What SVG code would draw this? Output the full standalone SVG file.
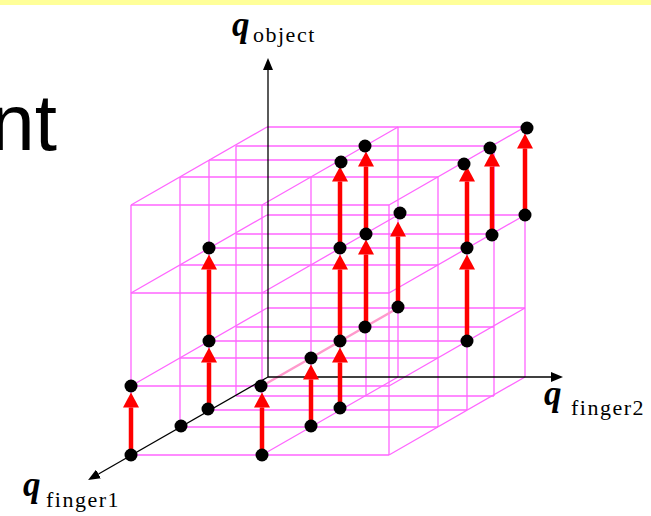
<svg xmlns="http://www.w3.org/2000/svg" width="651" height="516" viewBox="0 0 651 516">
<defs>
<marker id="rh" viewBox="0 0 15 16" refX="0" refY="8" markerWidth="15" markerHeight="16" markerUnits="userSpaceOnUse" orient="auto"><path d="M0,0 L15,8 L0,16 z" fill="#FF0000"/></marker>
<marker id="bh" viewBox="0 0 12 10" refX="0" refY="5" markerWidth="12" markerHeight="10" markerUnits="userSpaceOnUse" orient="auto"><path d="M0,0 L12,5 L0,10 z" fill="#000"/></marker>
</defs>
<style>
.g{stroke:#FF66FF;stroke-width:1.3;fill:none}
.hl{stroke:#FF99CC;stroke-width:2.5;fill:none}
.ax{stroke:#000;stroke-width:1.3;fill:none}
.ar{stroke:#FF0000;stroke-width:4.5;fill:none;marker-end:url(#rh)}
.dot{fill:#000}
.q{font-family:"Liberation Serif",serif;font-weight:bold;font-style:italic;font-size:35px}
.sub{font-family:"Liberation Serif",serif;font-size:22px;letter-spacing:1.5px}
</style>
<rect x="0" y="0" width="651" height="5" fill="#FFFF99"/>
<text x="57" y="150" text-anchor="end" font-family="Liberation Sans, Arial, sans-serif" font-size="80">nt</text>
<g id="grid">
<path class="g" d="M131,455H389 M131,386H389 M131,293H389 M131,205H389
M180,427H438 M180,358H438 M180,265H438 M180,177H438
M209,410H467 M209,341H467 M209,248H467 M209,160H467
M236,396H494 M236,327H494 M236,234H494 M236,146H494
M267,308H525 M267,215H525 M267,127H525"/>
<path class="g" d="M131,455V205 M180,427V177 M209,410V160 M236,396V146
M262,455V205 M311,427V177 M340,410V160 M366,396V146 M398,377V127
M389,455V205 M438,427V177 M467,410V160 M494,396V146 M525,377V127"/>
<path class="g" d="M131,386L267,308 M131,293L267,215 M131,205L267,127
M262,455L398,377 M262,293L398,215 M262,205L398,127
M389,455L525,377 M389,386L525,308 M389,293L525,215 M389,205L525,127"/>
<path class="hl" d="M262,386L398,308"/>
</g>
<g id="connectors">
<path class="ax" d="M268,377V70" marker-end="url(#bh)"/>
<path class="ax" d="M268,377H551" marker-end="url(#bh)"/>
<path class="ax" d="M268,377L98.5,474" marker-end="url(#bh)"/>
<path class="ar" d="M131,455V407.5"/>
<path class="ar" d="M209,410V362.5"/>
<path class="ar" d="M209,341V269.5"/>
<path class="ar" d="M262,455V407.5"/>
<path class="ar" d="M311,427V379.5"/>
<path class="ar" d="M340,410V362.5"/>
<path class="ar" d="M340,341V269.5"/>
<path class="ar" d="M340,248V181.5"/>
<path class="ar" d="M366,326V254.5"/>
<path class="ar" d="M366,233V166.5"/>
<path class="ar" d="M398,308V236.5"/>
<path class="ar" d="M467,341V269.5"/>
<path class="ar" d="M467,248V181.5"/>
<path class="ar" d="M492,233V166.5"/>
<path class="ar" d="M525,215V148.5"/>
</g>
<g id="nodes">
<circle class="dot" cx="131" cy="455" r="6.5"/>
<circle class="dot" cx="131" cy="386" r="6.5"/>
<circle class="dot" cx="181" cy="426" r="6.5"/>
<circle class="dot" cx="208" cy="409" r="6.5"/>
<circle class="dot" cx="209" cy="341" r="6.5"/>
<circle class="dot" cx="209" cy="248" r="6.5"/>
<circle class="dot" cx="262" cy="455" r="6.5"/>
<circle class="dot" cx="261" cy="386" r="6.5"/>
<circle class="dot" cx="311" cy="426" r="6.5"/>
<circle class="dot" cx="311" cy="358" r="6.5"/>
<circle class="dot" cx="340" cy="408" r="6.5"/>
<circle class="dot" cx="340" cy="341" r="6.5"/>
<circle class="dot" cx="340" cy="248" r="6.5"/>
<circle class="dot" cx="341" cy="162" r="6.5"/>
<circle class="dot" cx="365" cy="327" r="6.5"/>
<circle class="dot" cx="366" cy="234" r="6.5"/>
<circle class="dot" cx="365" cy="146" r="6.5"/>
<circle class="dot" cx="398" cy="307" r="6.5"/>
<circle class="dot" cx="400" cy="213" r="6.5"/>
<circle class="dot" cx="467" cy="341" r="6.5"/>
<circle class="dot" cx="467" cy="248" r="6.5"/>
<circle class="dot" cx="464" cy="164" r="6.5"/>
<circle class="dot" cx="492" cy="235" r="6.5"/>
<circle class="dot" cx="490" cy="148" r="6.5"/>
<circle class="dot" cx="525" cy="215" r="6.5"/>
<circle class="dot" cx="527" cy="128" r="6.5"/>
</g>
<g id="labels">
<text x="232" y="36" class="q">q</text><text x="253" y="42" class="sub">object</text>
<text x="544" y="405" class="q">q</text><text x="571" y="415" class="sub">finger2</text>
<text x="23" y="496" class="q">q</text><text x="46" y="507" class="sub">finger1</text>
</g>
</svg>
